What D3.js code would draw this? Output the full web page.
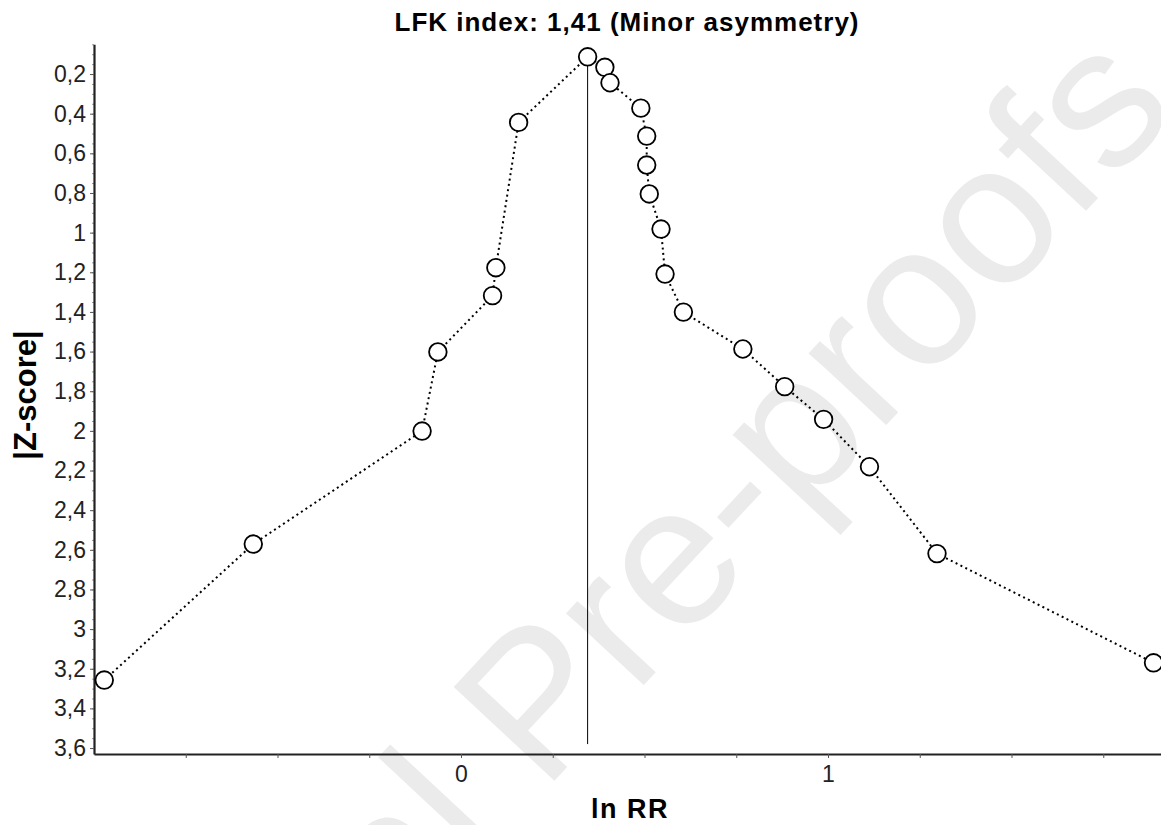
<!DOCTYPE html>
<html>
<head>
<meta charset="utf-8">
<script src="https://cdn.jsdelivr.net/npm/d3@7"></script>
<style>
  body { margin: 0; background: #fff; }
  text { font-family: "Liberation Sans", Arial, sans-serif; }
</style>
</head>
<body>
<div id="chart"></div>
<script>
// Doi plot points, in the order they are joined (left limb up, then right limb down)
var lnRR = [-0.972, -0.566, -0.106, -0.063, 0.086, 0.095, 0.157, 0.345,
            0.392, 0.406, 0.490, 0.506, 0.506, 0.513, 0.545, 0.556, 0.606,
            0.768, 0.882, 0.988, 1.113, 1.297, 1.887];
var zScore = [3.257, 2.571, 2.001, 1.602, 1.318, 1.177, 0.444, 0.113,
              0.166, 0.244, 0.372, 0.513, 0.659, 0.805, 0.982, 1.209, 1.401,
              1.587, 1.777, 1.942, 2.181, 2.619, 3.170];
var yTicks = [0.2, 0.4, 0.6, 0.8, 1, 1.2, 1.4, 1.6, 1.8, 2, 2.2, 2.4, 2.6, 2.8, 3, 3.2, 3.4, 3.6];
var xTicks = [-0.75, -0.5, -0.25, 0, 0.25, 0.5, 0.75, 1, 1.25, 1.5, 1.75];
var xLabels = [0, 1];
var midLine = 0.345;
var title = 'LFK index: 1,41 (Minor asymmetry)';

var W = 1161, H = 825;

var svg = d3.select('#chart').append('svg')
  .attr('width', W).attr('height', H);

var x = d3.scaleLinear().domain([-1, 1.93]).range([94, 94 + 2.93 * 367]);
var y = d3.scaleLinear().domain([0.05, 3.63]).range([44.3, 754]);

// watermark
svg.append('text')
  .attr('transform', 'translate(1180,110) rotate(-47)')
  .attr('text-anchor', 'end')
  .attr('font-size', 200)
  .attr('fill', '#ebebeb')
  .text('Journal Pre-proofs');

var fmt = function(d) { return String(d).replace('.', ','); };

// minor ticks on y
var yMinor = d3.range(0.05, 3.63, 0.05);
svg.append('g')
  .attr('transform', 'translate(94,0)')
  .call(d3.axisLeft(y).tickValues(yMinor).tickSize(2).tickFormat(''))
  .call(function(g) {
    g.select('.domain').remove();
    g.selectAll('line').attr('stroke', '#999');
  });

var yAxisG = svg.append('g')
  .attr('transform', 'translate(94,0)')
  .call(d3.axisLeft(y).tickValues(yTicks).tickSize(4).tickSizeOuter(0).tickPadding(4).tickFormat(fmt));

var xAxisG = svg.append('g')
  .attr('transform', 'translate(0,754)')
  .call(d3.axisBottom(x).tickValues(xTicks).tickSize(4).tickSizeOuter(0).tickPadding(8)
    .tickFormat(function(d) { return xLabels.indexOf(d) >= 0 ? fmt(d) : ''; }));

[yAxisG, xAxisG].forEach(function(g) {
  g.select('.domain').attr('stroke', '#222').attr('stroke-width', 2.2);
  g.selectAll('.tick line').attr('stroke', '#555');
  g.selectAll('.tick text').attr('font-size', 23).attr('fill', '#222')
    .attr('font-family', '"Liberation Sans", Arial, sans-serif');
});

// vertical reference line
svg.append('line')
  .attr('x1', x(midLine)).attr('x2', x(midLine))
  .attr('y1', y(0.113)).attr('y2', y(3.58))
  .attr('stroke', '#000').attr('stroke-width', 1);

var pts = lnRR.map(function(v, i) { return { x: v, z: zScore[i] }; });

var line = d3.line()
  .x(function(d) { return x(d.x); })
  .y(function(d) { return y(d.z); });

svg.append('path')
  .attr('d', line(pts))
  .attr('fill', 'none')
  .attr('stroke', '#000')
  .attr('stroke-width', 2)
  .attr('stroke-dasharray', '2,3.4');

svg.selectAll('circle.pt')
  .data(pts)
  .enter().append('circle')
  .attr('class', 'pt')
  .attr('cx', function(d) { return x(d.x); })
  .attr('cy', function(d) { return y(d.z); })
  .attr('r', 8.8)
  .attr('fill', '#fff')
  .attr('stroke', '#000')
  .attr('stroke-width', 1.8);

// titles
svg.append('text')
  .attr('x', 627).attr('y', 31)
  .attr('text-anchor', 'middle')
  .attr('font-size', 26).attr('font-weight', 'bold')
  .attr('letter-spacing', 1)
  .text(title);

svg.append('text')
  .attr('x', 630).attr('y', 818)
  .attr('text-anchor', 'middle')
  .attr('font-size', 27).attr('font-weight', 'bold')
  .attr('letter-spacing', 1.5)
  .text('ln RR');

svg.append('text')
  .attr('transform', 'translate(36,395) rotate(-90)')
  .attr('text-anchor', 'middle')
  .attr('font-size', 31).attr('font-weight', 'bold')
  .text('|Z-score|');
</script>
</body>
</html>
